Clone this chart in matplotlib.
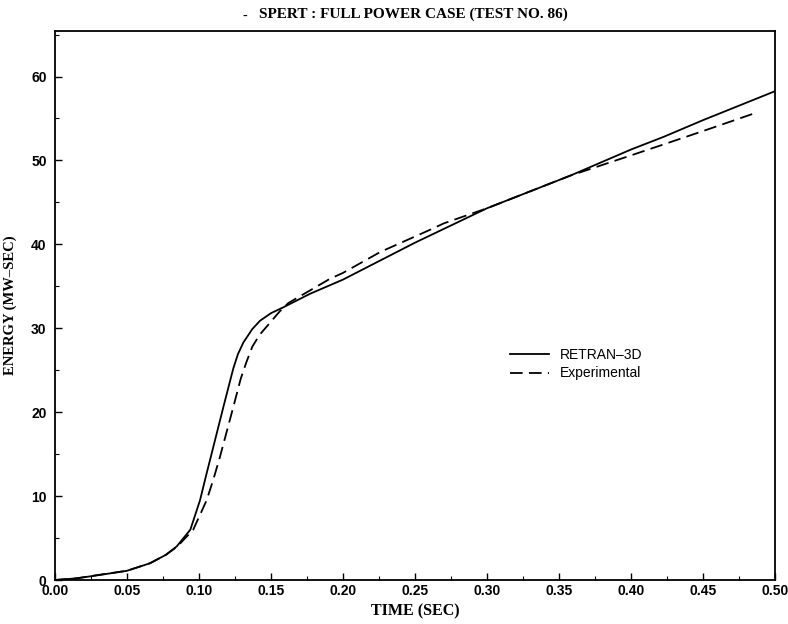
import numpy as np
import matplotlib.pyplot as plt
from matplotlib.ticker import MultipleLocator, FormatStrFormatter

# RETRAN-3D calculation
t_calc = [0.000, 0.015, 0.031, 0.050, 0.066, 0.077, 0.0845, 0.094, 0.1007, 0.105,
          0.110, 0.1169, 0.1238, 0.127, 0.1308, 0.137, 0.1424, 0.150, 0.1586, 0.177,
          0.200, 0.250, 0.300, 0.358, 0.400, 0.4225, 0.450, 0.500]
e_calc = [0.0, 0.2, 0.6, 1.1, 2.0, 3.0, 4.0, 6.0, 9.5, 12.5,
          15.9, 20.6, 25.2, 26.9, 28.3, 29.9, 30.9, 31.8, 32.5, 34.1,
          35.8, 40.2, 44.3, 48.2, 51.3, 52.8, 54.8, 58.25]

# experimental data
t_exp = [0.000, 0.015, 0.030, 0.050, 0.066, 0.077, 0.085, 0.096, 0.1053, 0.110,
         0.1146, 0.1238, 0.129, 0.133, 0.137, 0.142, 0.150, 0.156, 0.162, 0.191, 0.200,
         0.226, 0.260, 0.270, 0.300, 0.358, 0.400, 0.4225, 0.450, 0.488]
e_exp = [0.0, 0.2, 0.6, 1.1, 2.0, 3.0, 4.0, 6.0, 9.5, 12.0,
         14.7, 20.6, 24.0, 26.0, 27.8, 29.2, 30.8, 32.0, 33.0, 35.9, 36.6,
         39.1, 41.7, 42.5, 44.3, 48.2, 50.6, 51.9, 53.5, 55.75]

fig = plt.figure(figsize=(7.88, 6.24), dpi=100)
ax = fig.add_axes([0.0698, 0.0705, 0.9137, 0.8795])

ax.plot(t_calc, e_calc, color='black', lw=1.3, label='RETRAN\u20133D')
ax.plot(t_exp, e_exp, color='black', lw=1.3, dashes=(7, 3.5), label='Experimental')

ax.set_xlim(0, 0.5)
ax.set_ylim(0, 65.4)
ax.xaxis.set_major_locator(MultipleLocator(0.05))
ax.xaxis.set_minor_locator(MultipleLocator(0.025))
ax.yaxis.set_major_locator(MultipleLocator(10))
ax.yaxis.set_minor_locator(MultipleLocator(5))
ax.xaxis.set_major_formatter(FormatStrFormatter('%.2f'))
ax.tick_params(which='both', direction='in', top=False, right=False)
ax.tick_params(which='major', length=5, width=1)
ax.tick_params(which='minor', length=3, width=0.8)
ax.tick_params(axis='x', pad=3)
ax.tick_params(axis='y', pad=6)
for lab in ax.get_xticklabels() + ax.get_yticklabels():
    lab.set_family('Liberation Sans')
    lab.set_fontweight('bold')
    lab.set_fontsize(10)
for s in ax.spines.values():
    s.set_linewidth(1.3)

ax.set_xlabel('TIME (SEC)', family='Liberation Serif', fontweight='bold', fontsize=11.5, labelpad=4)
ax.set_ylabel('ENERGY (MW\u2013SEC)', family='Liberation Serif', fontweight='bold', fontsize=10.5, labelpad=10)

fig.text(0.524, 0.977, 'SPERT : FULL POWER CASE (TEST NO. 86)', family='Liberation Serif',
         fontweight='bold', fontsize=11, ha='center', va='center')
fig.text(0.311, 0.973, '-', family='Liberation Serif', fontsize=10, ha='center', va='center')

leg = ax.legend(loc='upper left', bbox_to_anchor=(0.615, 0.445), frameon=False,
                handlelength=2.8, handletextpad=0.8, labelspacing=0.3,
                prop={'family': 'Liberation Sans', 'size': 10})

fig.savefig('out.png', dpi=100)
